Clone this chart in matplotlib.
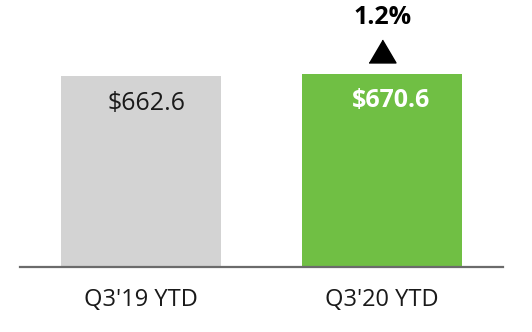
import matplotlib
matplotlib.use("Agg")
import matplotlib.pyplot as plt
from matplotlib.transforms import offset_copy

plt.rcParams["font.family"] = ["Open Sans", "DejaVu Sans"]

categories = ["Q3'19 YTD", "Q3'20 YTD"]
values = [662.6, 670.6]
value_labels = ["$662.6", "$670.6"]
change_label = "1.2%"

colors = ["#d3d3d3", "#70bf44"]

fig = plt.figure(figsize=(5.32, 3.32), dpi=100)
ax = fig.add_axes([20 / 532, 65 / 332, 483 / 532, 267 / 332])

x = list(range(len(categories)))
ax.bar(x, values, width=0.6625, color=colors, zorder=2)
ax.set_xlim(-0.5, 1.5)
ax.set_ylim(0, 926)

for s in ["top", "left", "right"]:
    ax.spines[s].set_visible(False)
ax.spines["bottom"].set_color("#6b6b6b")
ax.spines["bottom"].set_linewidth(1.6)
ax.spines["bottom"].set_zorder(3)
ax.set_yticks([])
ax.set_xticks(x)
ax.set_xticklabels(categories, fontsize=17, color="#1a1a1a")
ax.tick_params(axis="x", length=0, pad=15)

# value labels inside bars
ax.annotate(value_labels[0], (x[0], values[0]), xytext=(4, -20), textcoords="offset points",
            ha="center", va="center", fontsize=18, color="#1a1a1a")
ax.annotate(value_labels[1], (x[1], values[1]), xytext=(6.5, -19.5), textcoords="offset points",
            ha="center", va="center", fontsize=18, color="white", fontweight="bold")

# change marker above the second bar
tri = offset_copy(ax.transData, fig=fig, x=0, y=16.2, units="points")
ax.plot([x[1]], [values[1]], transform=tri, marker=[(-1, -0.85), (1, -0.85), (0, 0.85)],
        markersize=19.4, color="black", linestyle="none", clip_on=False)
ax.annotate(change_label, (x[1], values[1]), xytext=(0, 40.3), textcoords="offset points",
            ha="center", va="center", fontsize=18, fontweight="bold", color="black")

fig.savefig("out.png", dpi=100)
